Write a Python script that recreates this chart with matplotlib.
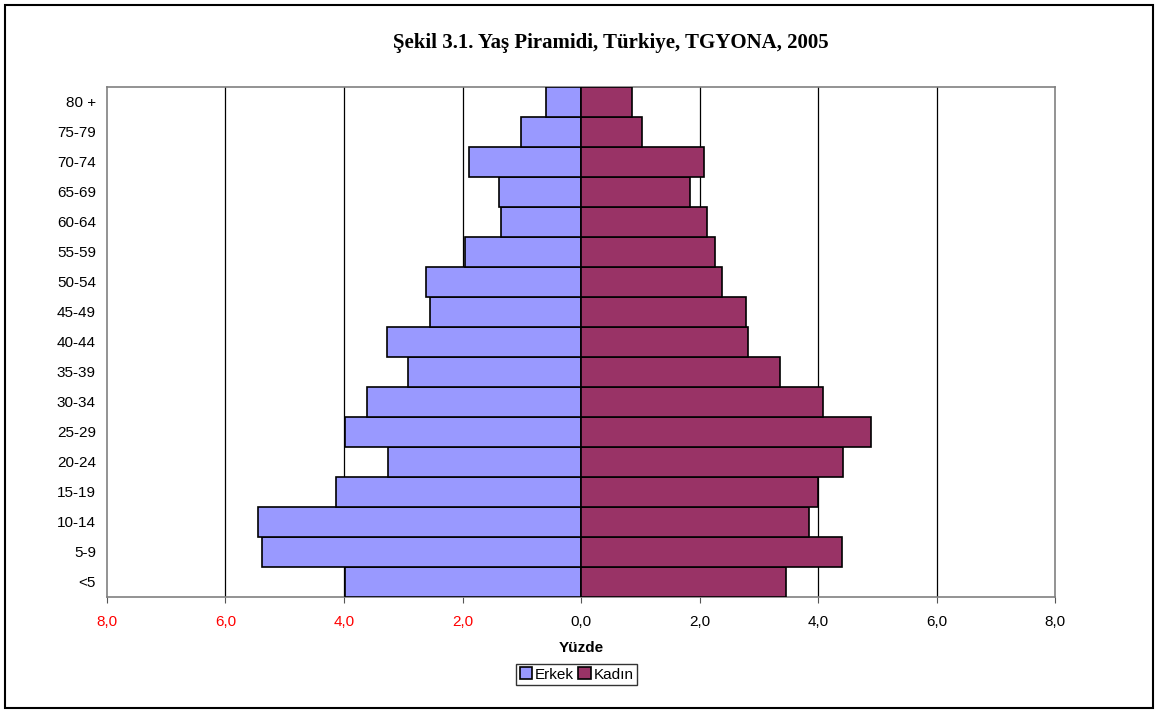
import numpy as np
import matplotlib
matplotlib.use("Agg")
import matplotlib.pyplot as plt
from matplotlib.patches import Rectangle

plt.rcParams.update({
    "font.family": ["Liberation Sans", "DejaVu Sans"],
    "font.size": 11,
})

# data (percent of population)
age_groups = ["<5", "5-9", "10-14", "15-19", "20-24", "25-29", "30-34", "35-39",
              "40-44", "45-49", "50-54", "55-59", "60-64", "65-69", "70-74",
              "75-79", "80 +"]
erkek = [3.98, 5.38, 5.45, 4.14, 3.26, 3.98, 3.61, 2.92,
         3.27, 2.55, 2.62, 1.96, 1.35, 1.38, 1.89, 1.01, 0.59]
kadin = [3.46, 4.41, 3.85, 4.00, 4.42, 4.89, 4.09, 3.36,
         2.82, 2.78, 2.38, 2.26, 2.13, 1.84, 2.08, 1.03, 0.86]
xticks = [-8, -6, -4, -2, 0, 2, 4, 6, 8]

fig = plt.figure(figsize=(11.59, 7.13), dpi=100)
ax = fig.add_axes([0.0923, 0.163, 0.8181, 0.715])

y = np.arange(len(age_groups))
ax.barh(y, [-v for v in erkek], height=1.0, color="#9999FF",
        edgecolor="black", linewidth=1.2, label="Erkek", zorder=3)
ax.barh(y, kadin, height=1.0, color="#993366",
        edgecolor="black", linewidth=1.2, label="Kadın", zorder=3)

ax.set_xlim(-8, 8)
ax.set_ylim(-0.5, len(age_groups) - 0.5)
ax.set_yticks(y)
ax.set_yticklabels(age_groups)
ax.tick_params(axis="y", length=0, pad=8)
ax.set_xticks(xticks)
ax.set_xticklabels([f"{abs(v):.1f}".replace(".", ",") for v in xticks])
for lbl, v in zip(ax.get_xticklabels(), xticks):
    if v < 0:
        lbl.set_color("red")
ax.tick_params(axis="x", length=4, pad=9, color="#555555")

for v in xticks[1:-1]:
    ax.axvline(v, color="black", linewidth=0.9, zorder=1)
for sp in ax.spines.values():
    sp.set_color("#808080")
    sp.set_linewidth(1.2)

ax.set_xlabel("Yüzde", fontweight="bold", labelpad=9)
fig.text(0.527, 0.94, "Şekil 3.1. Yaş Piramidi, Türkiye, TGYONA, 2005",
         ha="center", va="center", fontsize=15, fontweight="bold",
         family=["Liberation Serif", "DejaVu Serif"])

fig.legend(loc="center", bbox_to_anchor=(0.4975, 0.054), ncol=2,
           frameon=True, fancybox=False, edgecolor="black",
           handlelength=0.8, handleheight=0.8, handletextpad=0.2,
           columnspacing=0.3, borderpad=0.25, borderaxespad=0)

# outer frame
fig.patches.append(Rectangle((0.004, 0.007), 0.991, 0.986, transform=fig.transFigure,
                             fill=False, edgecolor="black", linewidth=1.5))

fig.savefig("out.png", dpi=100)
